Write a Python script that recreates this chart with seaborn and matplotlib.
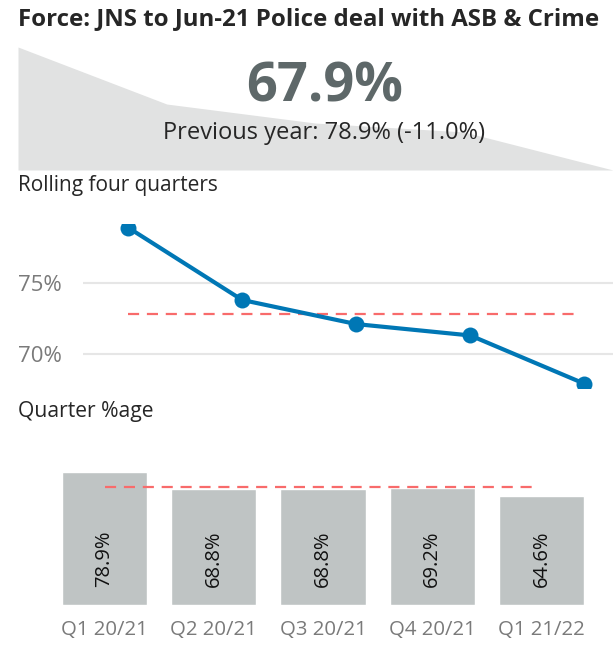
import numpy as np
import pandas as pd
import seaborn as sns
import matplotlib.pyplot as plt

quarters = ["Q1 20/21", "Q2 20/21", "Q3 20/21", "Q4 20/21", "Q1 21/22"]
rolling = [78.9, 73.8, 72.1, 71.3, 67.9]
quarter_pct = [78.9, 68.8, 68.8, 69.2, 64.6]
headline = "67.9%"
previous = "Previous year: 78.9% (-11.0%)"

sns.set_style("white")
plt.rcParams['font.family'] = ['Open Sans', 'DejaVu Sans']

W, H = 613, 645
fig = plt.figure(figsize=(W / 100, H / 100), dpi=100)


def px_axes(l, t, r, b):
    # rectangle in pixel coords (from top-left) -> figure fraction
    ax = fig.add_axes([l / W, 1 - b / H, (r - l) / W, (b - t) / H])
    for s in ax.spines.values():
        s.set_visible(False)
    return ax


blue = "#0077B5"
grey_bar = "#BFC4C4"
red = "#F86B6B"
tick_grey = "#7A7A7A"

df = pd.DataFrame({"quarter": quarters, "rolling": rolling, "pct": quarter_pct, "x": range(5)})

# title
fig.text(18 / W, 1 - 19 / H, "Force: JNS to Jun-21 Police deal with ASB & Crime",
         fontsize=17.3, fontweight="bold", va="center", ha="left")

# sparkline area card
ax0 = px_axes(18, 47, 613, 170)
ax0.fill_between(df["x"], df["rolling"], min(rolling), color="#E1E2E2", lw=0)
ax0.set_xlim(0, 4)
ax0.set_ylim(min(rolling), max(rolling))
ax0.set_xticks([])
ax0.set_yticks([])
ax0.patch.set_alpha(0)
fig.text(325 / W, 1 - 87 / H, headline, fontsize=39, fontweight="bold",
         color="#5E6869", ha="center", va="center")
fig.text(324 / W, 1 - 133 / H, previous, fontsize=17, ha="center", va="center")

# rolling four quarters line
fig.text(18 / W, 1 - 186 / H, "Rolling four quarters", fontsize=15, ha="left", va="center")
ax1 = px_axes(83, 224, 613, 388)
ax1.axhline(75, color="#E6E6E6", lw=1.5, zorder=0)
ax1.axhline(70, color="#E6E6E6", lw=1.5, zorder=0)
ax1.hlines(np.mean(rolling), 0, 3.93, colors=red, linestyles=(0, (5, 3.5)), lw=1.6, zorder=1)
sns.lineplot(data=df, x="x", y="rolling", ax=ax1, color=blue, lw=3,
             marker="o", markersize=11.5, markeredgewidth=0, zorder=3)
ax1.set_xlim(-0.395, 4.25)
ax1.set_ylim(67.6, 79.15)
ax1.set_yticks([70, 75])
ax1.set_yticklabels(["70%", "75%"])
ax1.set_xticks([])
ax1.tick_params(axis="y", length=0, pad=15, labelsize=16, labelcolor=tick_grey)
ax1.set_xlabel("")
ax1.set_ylabel("")

# quarter %age bars
fig.text(18 / W, 1 - 412 / H, "Quarter %age", fontsize=15.2, ha="left", va="center")
ax2 = px_axes(0, 440, 613, 605)
sns.barplot(data=df, x="x", y="pct", ax=ax2, color=grey_bar, width=0.78,
            saturation=1, native_scale=True)
ax2.hlines(np.mean(quarter_pct), 0, 3.92, colors=red, linestyles=(0, (5, 3.5)), lw=1.6, zorder=3)
for i, v in enumerate(quarter_pct):
    ax2.annotate(f"{v:.1f}%", (i, 0), xytext=(0, 13), textcoords="offset points",
                 rotation=90, ha="center", va="bottom", fontsize=14.5, color="#111111")
ax2.set_xlim(-104.5 / 109.25, (613 - 104.5) / 109.25)
ax2.set_ylim(0, 165 / 1.686)
ax2.set_yticks([])
ax2.set_xticks(range(5))
ax2.set_xticklabels(quarters)
ax2.tick_params(axis="x", length=0, pad=11, labelsize=14.7, labelcolor=tick_grey)
ax2.set_xlabel("")
ax2.set_ylabel("")

fig.savefig("out.png", dpi=100)
